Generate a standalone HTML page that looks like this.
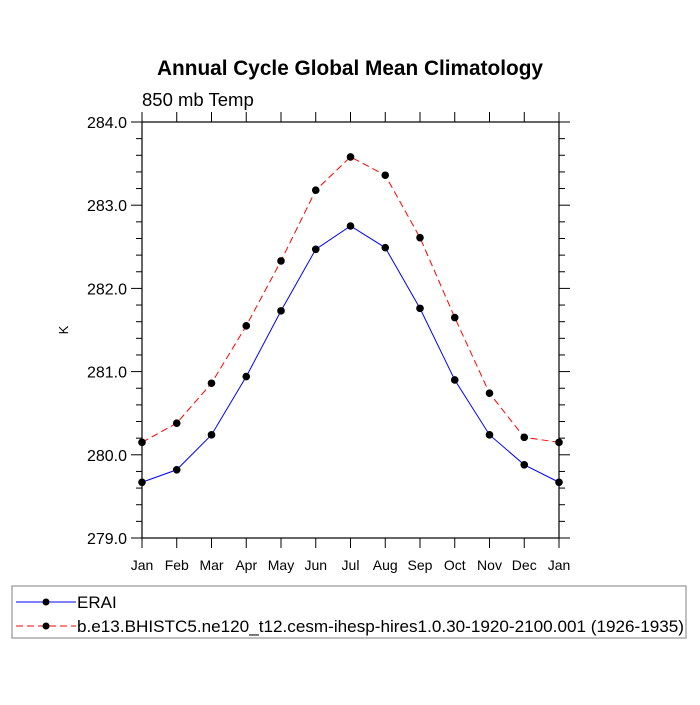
<!DOCTYPE html>
<html><head><meta charset="utf-8"><style>
body{margin:0;background:#fff;}
svg text{font-family:"Liberation Sans",Arial,sans-serif;}
</style></head><body>
<svg id="chart" width="700" height="700" viewBox="0 0 700 700">
<text x="350" y="75" text-anchor="middle" font-size="20.8" font-weight="bold">Annual Cycle Global Mean Climatology</text>
<text x="142" y="106" font-size="18.5">850 mb Temp</text>
<text x="68" y="330" font-size="13" text-anchor="middle" transform="rotate(-90 68 330)">K</text>
<g id="axes"></g>
<g id="series"></g>
<rect x="12" y="586" width="674" height="52" fill="none" stroke="#aaa" stroke-width="1.5"/>
<g>
<line x1="16" y1="602" x2="76" y2="602" stroke="#0000ff" stroke-width="1"/>
<circle cx="46" cy="602" r="3.5" fill="#000"/>
<text x="77" y="608" font-size="17">ERAI</text>
</g>
<g>
<line x1="16" y1="626" x2="76" y2="626" stroke="#ff0000" stroke-width="1" stroke-dasharray="7,4"/>
<circle cx="46" cy="626" r="3.5" fill="#000"/>
<text x="77" y="632" font-size="17" textLength="607" lengthAdjust="spacingAndGlyphs">b.e13.BHISTC5.ne120_t12.cesm-ihesp-hires1.0.30-1920-2100.001 (1926-1935)</text>
</g>
</svg>
<script>
const months=["Jan","Feb","Mar","Apr","May","Jun","Jul","Aug","Sep","Oct","Nov","Dec","Jan"];
const yTicks=[279,280,281,282,283,284];
const eraiValues=[279.67,279.82,280.24,280.94,281.73,282.47,282.75,282.49,281.76,280.90,280.24,279.88,279.67];
const modelValues=[280.15,280.38,280.86,281.55,282.33,283.18,283.58,283.36,282.61,281.65,280.74,280.21,280.15];
const L=142,R=559,T=122,B=538,yMin=279,yMax=284;
function xs(i){return L+(R-L)*i/(months.length-1);}
function ys(v){return B-(v-yMin)/(yMax-yMin)*(B-T);}
const NS="http://www.w3.org/2000/svg";
const ax=document.getElementById('axes'),se=document.getElementById('series');
function mk(tag,at,par){const e=document.createElementNS(NS,tag);for(const k in at)e.setAttribute(k,at[k]);par.appendChild(e);return e;}
const frame=mk('rect',{x:L,y:T,width:R-L,height:B-T,fill:'none',stroke:'#000','stroke-width':1.2},ax);


months.forEach((m,i)=>{const x=xs(i);
mk('line',{x1:x,y1:B,x2:x,y2:B+10,stroke:'#000'},ax);
mk('line',{x1:x,y1:T,x2:x,y2:T-10,stroke:'#000'},ax);
const t=mk('text',{x:x,y:B+32,'text-anchor':'middle','font-size':14},ax);t.textContent=m;


});
yTicks.forEach(v=>{const y=ys(v);
mk('line',{x1:L-11,y1:y,x2:L,y2:y,stroke:'#000'},ax);
mk('line',{x1:R,y1:y,x2:R+11,y2:y,stroke:'#000'},ax);
const t=mk('text',{x:L-15,y:y+6,'text-anchor':'end','font-size':16},ax);t.textContent=v.toFixed(1);


if(v<yMax){for(let k=1;k<5;k++){const yy=ys(v+k*0.2);
mk('line',{x1:L-6,y1:yy,x2:L,y2:yy,stroke:'#000'},ax);
mk('line',{x1:R,y1:yy,x2:R+6,y2:yy,stroke:'#000'},ax);}}
});
function series(vals,color,dash,name){
const g=mk('g',{},se);


const pts=vals.map((v,i)=>xs(i)+','+ys(v)).join(' ');
const at={points:pts,fill:'none',stroke:color,'stroke-width':1};if(dash)at['stroke-dasharray']=dash;
mk('polyline',at,g);
vals.forEach((v,i)=>{const c=mk('circle',{cx:xs(i),cy:ys(v),r:3.8,fill:'#000'},g);

});
}
series(eraiValues,'#0000ff',null,'erai-series');
series(modelValues,'#ff0000','7,4','model-series');
</script>
</body></html>
